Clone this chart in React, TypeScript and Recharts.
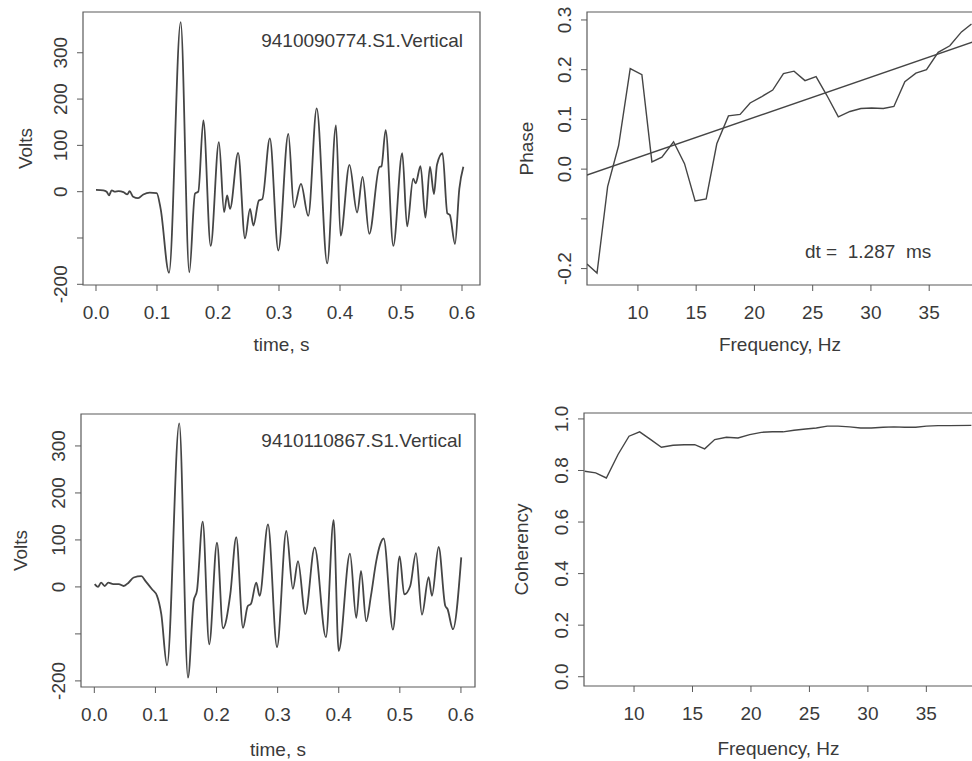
import React from "react";
import { LineChart, Line, XAxis, YAxis, ReferenceArea, Label } from "recharts";

const FONT = "'Liberation Sans', Arial, Helvetica, sans-serif";
const TEXT = "#3a3a3a";
const BOX = "#5a5a5a";
const TRACE = "#454545";
const FS = 19;

// first record, 9410090774.S1.Vertical
const trace1Time = [
  0.0, 0.012, 0.0175, 0.0213, 0.0257, 0.031, 0.037, 0.045, 0.0513, 0.055, 0.061, 0.069,
  0.0776, 0.088, 0.0995, 0.106, 0.1197, 0.1388, 0.153, 0.1623, 0.1677, 0.176, 0.188,
  0.2015, 0.21, 0.215, 0.2197, 0.233, 0.2443, 0.2525, 0.258, 0.267, 0.2726, 0.285,
  0.2989, 0.3153, 0.3246, 0.336, 0.348, 0.3618, 0.379, 0.3934, 0.401, 0.4155, 0.428,
  0.437, 0.448, 0.4645, 0.468, 0.4748, 0.4874, 0.502, 0.51, 0.52, 0.524, 0.532, 0.54,
  0.5475, 0.554, 0.559, 0.568, 0.576, 0.58, 0.5885, 0.5956, 0.6022,
];
const trace1Volts = [
  4, 3, 0, -8, 3, 0, 1, -1, -6, 1, -11, -14,
  -6, -2, -3, -37, -175, 366, -174, -4, 0, 154, -117,
  107, -44, -8, -37, 84, -101, -37, -73, -19, -16, 115,
  -127, 125, -34, 17, -52, 180, -155, 143, -95, 58, -45,
  32, -91, 53, 55, 133, -117, 83, -75, 28, 18, 55, -56,
  54, -5, 58, 83, -47, -50, -113, 6, 54,
];

// second record, 9410110867.S1.Vertical
const trace2Time = [
  0.0006, 0.006, 0.011, 0.017, 0.023, 0.031, 0.04, 0.048, 0.056, 0.0645, 0.077, 0.0835,
  0.0944, 0.1026, 0.1096, 0.119, 0.139, 0.1533, 0.1626, 0.168, 0.1774, 0.188, 0.2008,
  0.2106, 0.2225, 0.2323, 0.2433, 0.251, 0.2564, 0.265, 0.2706, 0.2842, 0.299, 0.3142,
  0.325, 0.3333, 0.3453, 0.3606, 0.379, 0.3916, 0.3999, 0.4184, 0.4287, 0.4364, 0.445,
  0.4527, 0.4614, 0.468, 0.4735, 0.4887, 0.4997, 0.5072, 0.517, 0.5264, 0.5362, 0.5471,
  0.5525, 0.5635, 0.5743, 0.578, 0.5869, 0.6005,
];
const trace2Volts = [
  6, 0, 9, 2, 9, 6, 6, 2, 9, 20, 23, 13,
  -5, -19, -58, -167, 348, -193, -30, -8, 139, -122, 94,
  -88, -16, 106, -87, -41, -36, 9, -19, 133, -128, 119,
  -4, 55, -58, 84, -107, 142, -136, 71, -66, 34, -73,
  -19, 55, 91, 103, -91, 65, -16, 2, 72, -59, 21,
  -19, 85, -40, -47, -90, 63,
];

// cross-spectral phase and the fitted delay line
const phaseFreq = [
  5.63, 6.49, 7.4, 8.34, 9.34, 10.34, 11.2, 12.06, 13.06, 14.0, 14.91, 15.86, 16.77,
  17.77, 18.77, 19.63, 20.63, 21.57, 22.49, 23.4, 24.34, 25.29, 26.2, 27.2, 28.2,
  29.14, 30.06, 31.06, 31.97, 32.91, 33.86, 34.77, 35.77, 36.77, 37.77, 38.63,
];
const phaseValue = [
  -0.191, -0.209, -0.035, 0.047, 0.202, 0.19, 0.0145, 0.024, 0.055, 0.011, -0.064, -0.06,
  0.051, 0.107, 0.11, 0.133, 0.146, 0.159, 0.192, 0.197, 0.178, 0.186, 0.149, 0.105,
  0.116, 0.122, 0.123, 0.122, 0.126, 0.176, 0.193, 0.2, 0.235, 0.248, 0.276, 0.292,
];
const fitFreq = [5.63, 38.76];
const fitPhase = [-0.012, 0.256];

// coherency
const cohFreq = [
  5.78, 6.72, 7.63, 8.63, 9.57, 10.48, 11.43, 12.34, 13.34, 14.28, 15.19, 16.04, 16.9,
  17.9, 18.89, 19.89, 20.89, 21.83, 22.74, 23.68, 24.68, 25.59, 26.53, 27.45, 28.44,
  29.38, 30.3, 31.3, 32.23, 33.15, 34.09, 35.0, 36.0, 37.0, 38.85,
];
const cohValue = [
  0.797, 0.791, 0.771, 0.862, 0.933, 0.95, 0.92, 0.89, 0.898, 0.9, 0.9, 0.884, 0.92,
  0.929, 0.926, 0.939, 0.948, 0.95, 0.95, 0.956, 0.961, 0.965, 0.972, 0.972, 0.969,
  0.965, 0.965, 0.968, 0.969, 0.968, 0.968, 0.972, 0.974, 0.974, 0.975,
];

const timeTicks = [0, 0.1, 0.2, 0.3, 0.4, 0.5, 0.6];
const voltTicks = [-200, -100, 0, 100, 200, 300];
const freqTicks = [10, 15, 20, 25, 30, 35];
const phaseTicks = [-0.2, -0.1, 0, 0.1, 0.2, 0.3];
const cohTicks = [0, 0.2, 0.4, 0.6, 0.8, 1.0];

const pairs = (xs: number[], ys: number[]) => xs.map((x, i) => ({ x, y: ys[i] }));

const fmt1 = (v: number) => v.toFixed(1);
const fmt0 = (v: number) => String(v);

interface Series {
  data: { x: number; y: number }[];
  width: number;
  curve: "monotone" | "linear";
}

interface Note {
  text: string;
  dx: number; // from plot left (start) or plot right (end)
  dy: number; // baseline below plot top
  anchor: "start" | "end";
}

interface PanelProps {
  left: number;
  top: number;
  width: number;
  height: number;
  marginTop: number;
  marginRight: number;
  yWidth: number;
  xHeight: number;
  xDomain: [number, number];
  yDomain: [number, number];
  xTicks: number[];
  yTicks: number[];
  hideY: number[];
  xFmt: (v: number) => string;
  yFmt: (v: number) => string;
  xTitle: string;
  xTitleDy: number;
  yTitle: string;
  yTitleDx: number;
  series: Series[];
  note?: Note;
}

function Panel(p: PanelProps) {
  const textProps = { fill: TEXT, fontSize: FS, fontFamily: FONT };
  return (
    <div style={{ position: "absolute", left: p.left, top: p.top }}>
      <LineChart
        width={p.width}
        height={p.height}
        margin={{ top: p.marginTop, right: p.marginRight, bottom: 0, left: 0 }}
      >
        <XAxis
          type="number"
          dataKey="x"
          domain={p.xDomain}
          ticks={p.xTicks}
          allowDataOverflow
          interval={0}
          height={p.xHeight}
          axisLine={false}
          tickSize={6}
          tickMargin={15}
          tickLine={{ stroke: BOX, strokeWidth: 1 }}
          tick={textProps}
          tickFormatter={p.xFmt}
        >
          <Label
            content={(lp: any) => {
              const vb = lp.viewBox;
              return (
                <text x={vb.x + vb.width / 2} y={vb.y + p.xTitleDy} textAnchor="middle" {...textProps}>
                  {p.xTitle}
                </text>
              );
            }}
          />
        </XAxis>
        <YAxis
          type="number"
          domain={p.yDomain}
          ticks={p.yTicks}
          allowDataOverflow
          interval={0}
          width={p.yWidth}
          axisLine={false}
          tickSize={6}
          tickMargin={10}
          tickLine={{ stroke: BOX, strokeWidth: 1 }}
          tick={(tp: any) => {
            const v = tp.payload.value;
            if (p.hideY.includes(v)) return <g />;
            return (
              <text
                x={tp.x}
                y={tp.y}
                transform={`rotate(-90 ${tp.x} ${tp.y})`}
                textAnchor="middle"
                {...textProps}
              >
                {p.yFmt(v)}
              </text>
            );
          }}
        >
          <Label
            content={(lp: any) => {
              const vb = lp.viewBox;
              const bx = vb.x + vb.width - p.yTitleDx;
              const cy = vb.y + vb.height / 2;
              return (
                <text x={bx} y={cy} transform={`rotate(-90 ${bx} ${cy})`} textAnchor="middle" {...textProps}>
                  {p.yTitle}
                </text>
              );
            }}
          />
        </YAxis>
        <ReferenceArea
          x1={p.xDomain[0]}
          x2={p.xDomain[1]}
          y1={p.yDomain[0]}
          y2={p.yDomain[1]}
          fill="none"
          fillOpacity={0}
          stroke={BOX}
          strokeWidth={1.2}
          ifOverflow="visible"
        >
          {p.note && (
            <Label
              content={(lp: any) => {
                const vb = lp.viewBox;
                const n = p.note as Note;
                const x = n.anchor === "end" ? vb.x + vb.width - n.dx : vb.x + n.dx;
                return (
                  <text
                    x={x}
                    y={vb.y + n.dy}
                    textAnchor={n.anchor}
                    style={{ whiteSpace: "pre" }}
                    {...textProps}
                  >
                    {n.text}
                  </text>
                );
              }}
            />
          )}
        </ReferenceArea>
        {p.series.map((s, i) => (
          <Line
            key={i}
            data={s.data}
            dataKey="y"
            type={s.curve}
            dot={false}
            activeDot={false}
            stroke={TRACE}
            strokeWidth={s.width}
            isAnimationActive={false}
          />
        ))}
      </LineChart>
    </div>
  );
}

export default function App() {
  return (
    <div
      style={{
        position: "absolute",
        left: 0,
        top: 0,
        width: 972,
        height: 761,
        overflow: "hidden",
        background: "#fff",
      }}
    >
      {/* top left: first seismogram */}
      <Panel
        left={0}
        top={0}
        width={490}
        height={375}
        marginTop={12}
        marginRight={10}
        yWidth={83}
        xHeight={90}
        xDomain={[-0.0213, 0.6295]}
        yDomain={[-201.5, 388]}
        xTicks={timeTicks}
        yTicks={voltTicks}
        hideY={[-100]}
        xFmt={fmt1}
        yFmt={fmt0}
        xTitle="time, s"
        xTitleDy={66}
        yTitle="Volts"
        yTitleDx={51.5}
        series={[{ data: pairs(trace1Time, trace1Volts), width: 1.8, curve: "monotone" }]}
        note={{ text: "9410090774.S1.Vertical", dx: 17, dy: 34.7, anchor: "end" }}
      />
      {/* top right: phase spectrum */}
      <Panel
        left={490}
        top={0}
        width={483}
        height={375}
        marginTop={12}
        marginRight={0}
        yWidth={97}
        xHeight={90}
        xDomain={[5.63, 38.76]}
        yDomain={[-0.233, 0.316]}
        xTicks={freqTicks}
        yTicks={phaseTicks}
        hideY={[-0.1]}
        xFmt={fmt0}
        yFmt={fmt1}
        xTitle="Frequency, Hz"
        xTitleDy={66}
        yTitle="Phase"
        yTitleDx={54}
        series={[
          { data: pairs(phaseFreq, phaseValue), width: 1.4, curve: "linear" },
          { data: pairs(fitFreq, fitPhase), width: 1.4, curve: "linear" },
        ]}
        note={{ text: "dt =  1.287  ms", dx: 218, dy: 246, anchor: "start" }}
      />
      {/* bottom left: second seismogram */}
      <Panel
        left={0}
        top={395}
        width={490}
        height={366}
        marginTop={19}
        marginRight={15}
        yWidth={81}
        xHeight={74}
        xDomain={[-0.0218, 0.623]}
        yDomain={[-213, 368]}
        xTicks={timeTicks}
        yTicks={voltTicks}
        hideY={[-100]}
        xFmt={fmt1}
        yFmt={fmt0}
        xTitle="time, s"
        xTitleDy={69}
        yTitle="Volts"
        yTitleDx={54.3}
        series={[{ data: pairs(trace2Time, trace2Volts), width: 1.8, curve: "monotone" }]}
        note={{ text: "9410110867.S1.Vertical", dx: 13.3, dy: 33.3, anchor: "end" }}
      />
      {/* bottom right: coherency */}
      <Panel
        left={490}
        top={395}
        width={483}
        height={366}
        marginTop={18}
        marginRight={0}
        yWidth={94}
        xHeight={75}
        xDomain={[5.72, 38.99]}
        yDomain={[-0.036, 1.023]}
        xTicks={freqTicks}
        yTicks={cohTicks}
        hideY={[]}
        xFmt={fmt0}
        yFmt={fmt1}
        xTitle="Frequency, Hz"
        xTitleDy={69}
        yTitle="Coherency"
        yTitleDx={55.7}
        series={[{ data: pairs(cohFreq, cohValue), width: 1.4, curve: "linear" }]}
      />
    </div>
  );
}
